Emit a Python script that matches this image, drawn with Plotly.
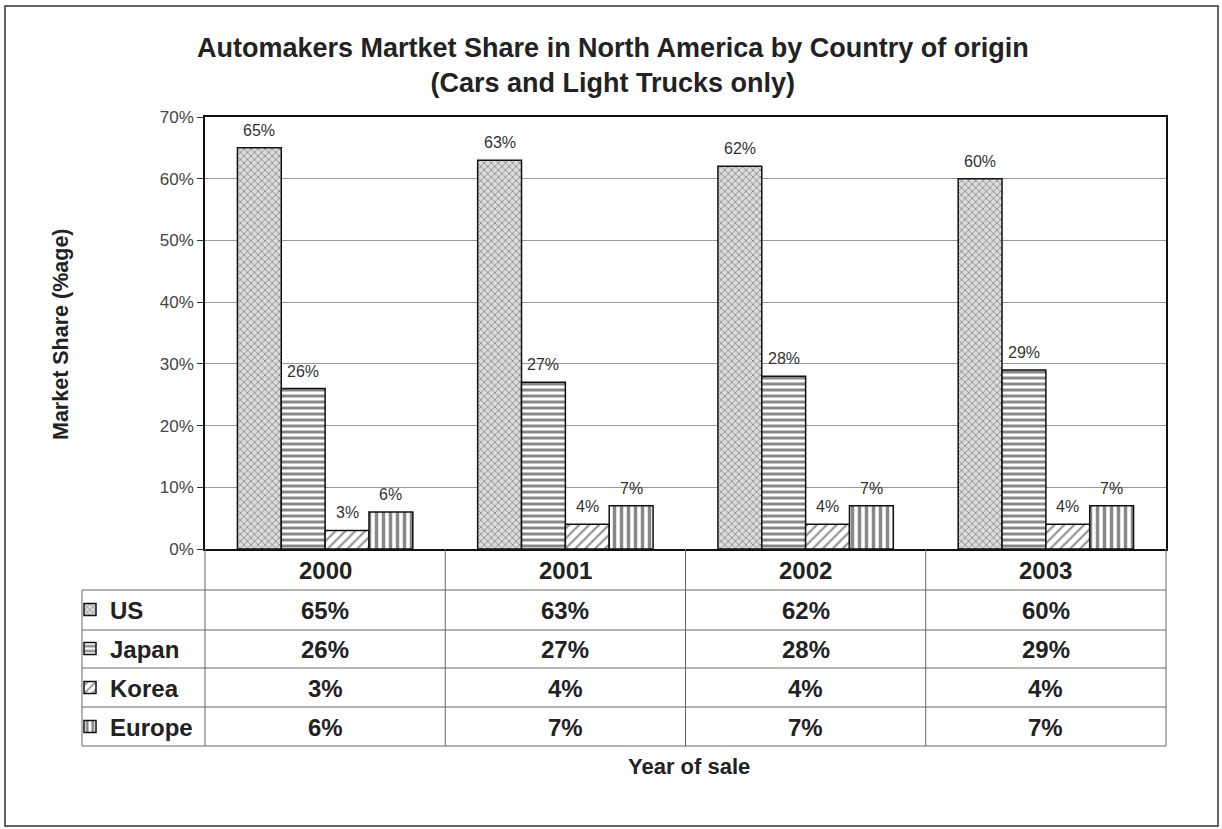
import plotly.graph_objects as go

# Market share (%) by country of origin, cars and light trucks
years = ["2000", "2001", "2002", "2003"]
us = [65, 63, 62, 60]
japan = [26, 27, 28, 29]
korea = [3, 4, 4, 4]
europe = [6, 7, 7, 7]
series_names = ["US", "Japan", "Korea", "Europe"]
y_ticks = [0, 10, 20, 30, 40, 50, 60, 70]

W, H = 1222, 829
L, R, T, B = 205, 1166, 117, 549  # plot area in pixels
PW, PH = R - L, B - T
BARGAP = 0.27

FONT = "Arial, Liberation Sans, sans-serif"


def px(x):
    return (x - L) / PW


def py(y):
    return (B - y) / PH


patterns = [
    dict(shape="x", size=5, solidity=0.3, fgcolor="#333", bgcolor="#dcdcdc"),
    dict(shape="-", size=6, solidity=0.5, fgcolor="#111", bgcolor="white"),
    dict(shape="/", size=7, solidity=0.3, fgcolor="#222", bgcolor="white"),
    dict(shape="|", size=7, solidity=0.5, fgcolor="#111", bgcolor="white"),
]

series = [us, japan, korea, europe]
fig = go.Figure()

# legend rows sit in the first column of the data table
row_centers = [610, 649, 688, 727]
legend_ids = ["legend", "legend2", "legend3", "legend4"]

for i, (name, vals) in enumerate(zip(series_names, series)):
    fig.add_trace(go.Bar(
        x=years, y=vals, name=f"<b>{name}</b>",
        marker=dict(color="white", line=dict(color="#111", width=1.5),
                    pattern=patterns[i]),
        legend=legend_ids[i],
    ))

layout_legends = {}
for i, lid in enumerate(legend_ids):
    layout_legends[lid] = dict(
        x=px(70), xanchor="left", y=py(row_centers[i]), yanchor="middle",
        bgcolor="rgba(0,0,0,0)", font=dict(family=FONT, size=24, color="#222"),
        itemclick=False, itemdoubleclick=False,
    )

shapes = []
line_c = dict(color="#666", width=1)
# outer frame
shapes.append(dict(type="rect", xref="paper", yref="paper",
                   x0=px(5), x1=px(1218), y0=py(6), y1=py(826),
                   line=dict(color="#333", width=1.5)))
# table: horizontal rules
row_lines = [590, 630, 668, 707, 746]
for yl in row_lines:
    shapes.append(dict(type="line", xref="paper", yref="paper",
                       x0=px(82), x1=px(R), y0=py(yl), y1=py(yl), line=line_c))
# table: vertical rules
for k in range(len(years) + 1):
    xv = px(L) + k / len(years)
    shapes.append(dict(type="line", xref="paper", yref="paper",
                       x0=xv, x1=xv, y0=py(B), y1=py(746), line=line_c))
shapes.append(dict(type="line", xref="paper", yref="paper",
                   x0=px(82), x1=px(82), y0=py(590), y1=py(746), line=line_c))

annotations = []
# value labels above each bar (category index plus offset within the group)
cat_w = PW / len(years)
bar_w = cat_w * (1 - BARGAP) / len(series)
for i, vals in enumerate(series):
    shift = (i - (len(series) - 1) / 2) * bar_w
    for k, v in enumerate(vals):
        annotations.append(dict(
            text=f"{v}%", x=k, y=v, xref="x", yref="y", xshift=shift, yshift=7,
            xanchor="center", yanchor="bottom", showarrow=False,
            font=dict(family=FONT, size=16, color="#333")))
# title
annotations.append(dict(
    text="<b>Automakers Martket Share in North America by Country of origin<br>(Cars and Light Trucks only)</b>",
    xref="paper", yref="paper", x=px(613), y=py(66), xanchor="center", yanchor="middle",
    showarrow=False, font=dict(family=FONT, size=27, color="#222"), align="center"))
# y-axis title
annotations.append(dict(
    text="<b>Market Share (%age)</b>", textangle=-90,
    xref="paper", yref="paper", x=px(61), y=py(334), xanchor="center", yanchor="middle",
    showarrow=False, font=dict(family=FONT, size=21.5, color="#222")))
# x-axis title
annotations.append(dict(
    text="<b>Year of sale</b>",
    xref="paper", yref="paper", x=px(689), y=py(766), xanchor="center", yanchor="middle",
    showarrow=False, font=dict(family=FONT, size=22, color="#222")))
# table header and values
for k, yr in enumerate(years):
    xc = (k + 0.5) / len(years)
    annotations.append(dict(text=f"<b>{yr}</b>", xref="paper", yref="paper",
                            x=xc, y=py(570), xanchor="center", yanchor="middle",
                            showarrow=False,
                            font=dict(family=FONT, size=24, color="#222")))
    for r, vals in enumerate(series):
        annotations.append(dict(text=f"<b>{vals[k]}%</b>", xref="paper", yref="paper",
                                x=xc, y=py(row_centers[r]), xanchor="center",
                                yanchor="middle", showarrow=False,
                                font=dict(family=FONT, size=24, color="#222")))

fig.update_layout(
    width=W, height=H,
    margin=dict(l=L, r=W - R, t=T, b=H - B, pad=0),
    paper_bgcolor="white", plot_bgcolor="white",
    barmode="group", bargap=BARGAP, bargroupgap=0,
    showlegend=True,
    shapes=shapes, annotations=annotations,
    font=dict(family=FONT, color="#333"),
    **layout_legends,
)
fig.update_xaxes(type="category", categoryorder="array", categoryarray=years,
                 range=[-0.5, len(years) - 0.5],
                 showticklabels=False, showline=True, linecolor="#111", linewidth=1.5,
                 mirror=True, ticks="", showgrid=False)
fig.update_yaxes(range=[0, 70], tickvals=y_ticks, ticktext=[f"{t}%" for t in y_ticks],
                 showline=True, linecolor="#111", linewidth=1.5, mirror=True,
                 ticks="outside", ticklen=6, tickcolor="#333",
                 tickfont=dict(family=FONT, size=17, color="#444"),
                 showgrid=True, gridcolor="#999", gridwidth=1, zeroline=False)

fig.write_html("out.html")
